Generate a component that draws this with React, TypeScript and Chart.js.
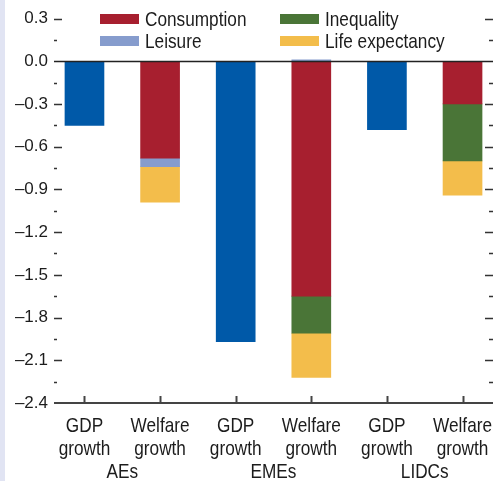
import React, { useEffect, useRef } from 'react';
import { Chart, registerables } from 'chart.js';

Chart.register(...registerables);

// ---------- data ----------
const categoryLabels: string[][] = [
  ['GDP', 'growth'],
  ['Welfare', 'growth'],
  ['GDP', 'growth'],
  ['Welfare', 'growth'],
  ['GDP', 'growth'],
  ['Welfare', 'growth'],
];
const groupLabels = ['AEs', 'EMEs', 'LIDCs'];
const gdpPositions = [0, 2, 4];
const welfarePositions = [1, 3, 5];

const gdpGrowth = [-0.45, -1.97, -0.48];
const consumption = [-0.68, -1.65, -0.3];
const leisure = [-0.06, 0.01, 0];
const inequality = [0, -0.26, -0.4];
const lifeExpectancy = [-0.25, -0.31, -0.24];

const yTickValues = [-2.4, -2.1, -1.8, -1.5, -1.2, -0.9, -0.6, -0.3, 0, 0.3];
const yMin = -2.4;
const yMax = 0.43;

const legendItems = [
  { label: 'Consumption', color: '#A71F2F' },
  { label: 'Leisure', color: '#869CCD' },
  { label: 'Inequality', color: '#4A7537' },
  { label: 'Life expectancy', color: '#F3BD4B' },
];

// ---------- styles ----------
const SANS = '"Liberation Sans", Arial, sans-serif';
const TEXT = '#1c1c1c';
const CONDENSE = 0.82;

const fmt = (v: number) => {
  if (Math.abs(v) < 1e-9) return '0.0';
  return (v < 0 ? '\u2013' : '') + Math.abs(v).toFixed(1);
};

const toPoints = (xs: number[], ys: number[]) =>
  xs.map((x, i) => ({ x, y: ys[i] })).filter((p) => p.y !== 0);

const condensedText = (ctx: CanvasRenderingContext2D, text: string, x: number, y: number, align: CanvasTextAlign) => {
  ctx.save();
  ctx.translate(x, y);
  ctx.scale(CONDENSE, 1);
  ctx.textAlign = align;
  ctx.fillText(text, 0, 0);
  ctx.restore();
};

const decorPlugin = {
  id: 'decor',
  beforeDraw(chart: any) {
    const { ctx, width, height } = chart;
    ctx.save();
    ctx.fillStyle = '#ffffff';
    ctx.fillRect(0, 0, width, height);
    ctx.fillStyle = '#E1E4F3';
    ctx.fillRect(0, 0, 5, height);
    ctx.restore();
  },
  afterDatasetsDraw(chart: any) {
    const { ctx, chartArea } = chart;
    const xs = chart.scales.x;
    const ys = chart.scales.y;
    const left = chartArea.left;
    const right = chartArea.right;
    ctx.save();

    // zero line
    const y0 = Math.round(ys.getPixelForValue(0)) + 0.5;
    ctx.strokeStyle = '#222';
    ctx.lineWidth = 1.5;
    ctx.beginPath();
    ctx.moveTo(left, y0);
    ctx.lineTo(right, y0);
    ctx.stroke();

    // y ticks (major + minor) both sides, pointing inward
    ctx.strokeStyle = '#333';
    ctx.lineWidth = 1.5;
    const drawTick = (v: number, major: boolean) => {
      const y = Math.round(ys.getPixelForValue(v)) + 0.5;
      const lenL = major ? 8 : 3;
      const lenR = major ? 8 : 4;
      ctx.beginPath();
      ctx.moveTo(left, y);
      ctx.lineTo(left + lenL, y);
      ctx.moveTo(right, y);
      ctx.lineTo(right - lenR, y);
      ctx.stroke();
    };
    yTickValues.forEach((v) => {
      if (Math.abs(v) > 1e-9 && v !== yMin) drawTick(v, true);
    });
    for (let i = 0; i < yTickValues.length - 1; i++) {
      drawTick((yTickValues[i] + yTickValues[i + 1]) / 2, false);
    }

    // bottom axis
    const yb = ys.getPixelForValue(yMin);
    ctx.strokeStyle = '#444';
    ctx.lineWidth = 2;
    ctx.beginPath();
    ctx.moveTo(left, yb);
    ctx.lineTo(right, yb);
    ctx.stroke();
    categoryLabels.forEach((_, i) => {
      const x = Math.round(xs.getPixelForValue(i)) + 0.5;
      ctx.beginPath();
      ctx.moveTo(x, yb);
      ctx.lineTo(x, yb - 7);
      ctx.stroke();
    });

    // x labels
    ctx.fillStyle = TEXT;
    ctx.font = `21px ${SANS}`;
    ctx.textBaseline = 'alphabetic';
    categoryLabels.forEach((lines, i) => {
      const x = xs.getPixelForValue(i);
      lines.forEach((t, j) => condensedText(ctx, t, x, yb + 29 + j * 23, 'center'));
    });
    groupLabels.forEach((g, k) => {
      const x = (xs.getPixelForValue(2 * k) + xs.getPixelForValue(2 * k + 1)) / 2;
      condensedText(ctx, g, x, yb + 75, 'center');
    });

    // legend
    const colX = [100, 280];
    const rowY = [14, 36];
    legendItems.forEach((it, i) => {
      const col = i < 2 ? 0 : 1;
      const row = i % 2;
      ctx.fillStyle = it.color;
      ctx.fillRect(colX[col], rowY[row], 39, 10);
      ctx.fillStyle = TEXT;
      condensedText(ctx, it.label, colX[col] + 45, rowY[row] + 12, 'left');
    });

    ctx.restore();
  },
};

export default function App() {
  const canvasRef = useRef<HTMLCanvasElement | null>(null);

  useEffect(() => {
    document.body.style.margin = '0';
    const canvas = canvasRef.current;
    if (!canvas) return;
    const chart = new Chart(canvas, {
      type: 'bar',
      data: {
        datasets: [
          { label: 'GDP growth', data: toPoints(gdpPositions, gdpGrowth), backgroundColor: '#0059A8' },
          { label: 'Consumption', data: toPoints(welfarePositions, consumption), backgroundColor: legendItems[0].color },
          { label: 'Leisure', data: toPoints(welfarePositions, leisure), backgroundColor: legendItems[1].color },
          { label: 'Inequality', data: toPoints(welfarePositions, inequality), backgroundColor: legendItems[2].color },
          { label: 'Life expectancy', data: toPoints(welfarePositions, lifeExpectancy), backgroundColor: legendItems[3].color },
        ] as any,
      },
      options: {
        animation: false,
        responsive: false,
        devicePixelRatio: 1,
        layout: { padding: { left: 0, right: 2, top: 0, bottom: 78 } },
        datasets: { bar: { barThickness: 39, borderWidth: 0 } } as any,
        plugins: { legend: { display: false }, tooltip: { enabled: false } },
        scales: {
          x: {
            type: 'linear',
            min: -0.403,
            max: 5.403,
            offset: false,
            stacked: true,
            display: false,
          },
          y: {
            type: 'linear',
            min: yMin,
            max: yMax,
            stacked: true,
            border: { display: false },
            grid: { display: false, drawTicks: false },
            afterFit: (scale: any) => {
              scale.width = 54;
              scale.paddingTop = 0;
              scale.paddingBottom = 0;
            },
            afterBuildTicks: (scale: any) => {
              scale.ticks = yTickValues.map((v) => ({ value: v }));
            },
            ticks: {
              padding: 6,
              color: TEXT,
              font: { family: SANS, size: 17 },
              callback: (v: any) => fmt(Number(v)),
            },
          },
        },
      } as any,
      plugins: [decorPlugin],
    });
    return () => chart.destroy();
  }, []);

  return (
    <div style={{ width: 495, height: 481 }}>
      <canvas ref={canvasRef} width={495} height={481} style={{ display: 'block', width: 495, height: 481 }} />
    </div>
  );
}
